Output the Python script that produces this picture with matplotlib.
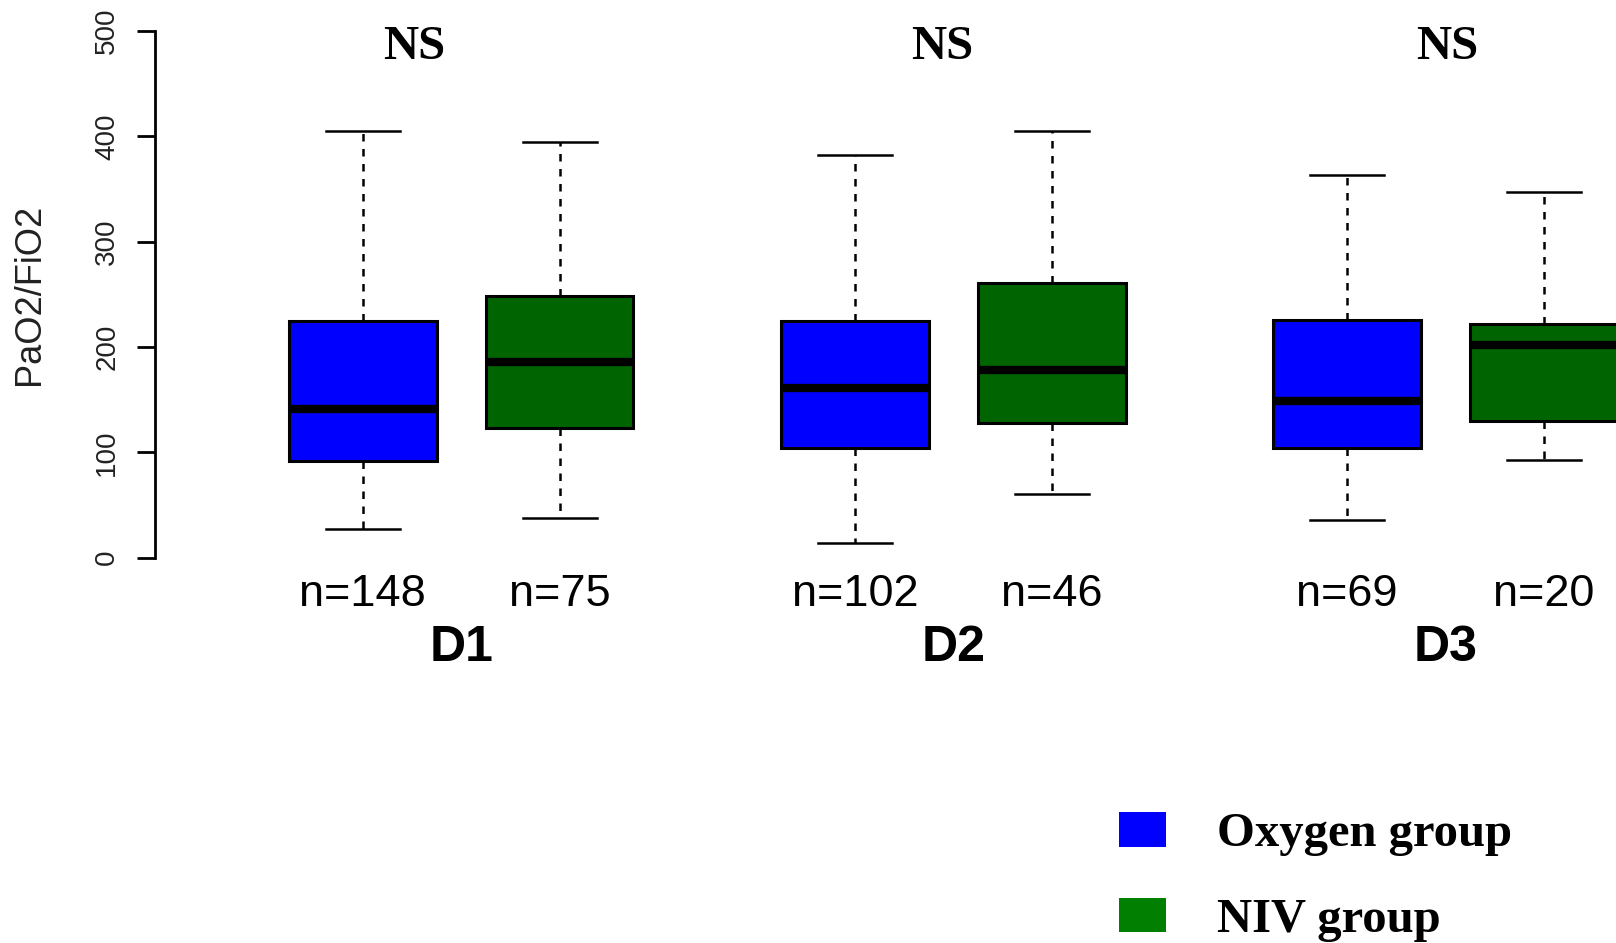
import numpy as np
import matplotlib.pyplot as plt
from matplotlib.patches import Patch

groups = ["D1", "D2", "D3"]
n_oxygen = [148, 102, 69]
n_niv = [75, 46, 20]

# box statistics (PaO2/FiO2)
oxy_whislo = [27, 14, 36]
oxy_q1 = [92, 104, 104]
oxy_med = [141, 161, 149]
oxy_q3 = [225, 225, 226]
oxy_whishi = [405, 382, 363]

niv_whislo = [38, 60, 93]
niv_q1 = [123, 128, 130]
niv_med = [186, 178, 202]
niv_q3 = [248, 261, 222]
niv_whishi = [395, 405, 347]

ns_labels = ["NS", "NS", "NS"]
ns_offsets = [0.26, 0.445, 0.51]

oxy_color = "#0000FF"
niv_color = "#006400"

sans = ["Liberation Sans", "DejaVu Sans"]
serif = ["Liberation Serif", "DejaVu Serif"]

fig = plt.figure(figsize=(16.16, 9.43), dpi=100)
ax = fig.add_axes([155 / 1616, 1 - 557.6 / 943, 1 - 155 / 1616, (557.6 - 31) / 943])

stats = []
positions = []
colors = []
for g in range(len(groups)):
    stats.append(dict(whislo=oxy_whislo[g], q1=oxy_q1[g], med=oxy_med[g],
                      q3=oxy_q3[g], whishi=oxy_whishi[g], fliers=[]))
    stats.append(dict(whislo=niv_whislo[g], q1=niv_q1[g], med=niv_med[g],
                      q3=niv_q3[g], whishi=niv_whishi[g], fliers=[]))
    positions += [g * 2.5 + 1, g * 2.5 + 2]
    colors += [oxy_color, niv_color]

bp = ax.bxp(stats, positions=positions, widths=0.75, patch_artist=True,
            showfliers=False, capwidths=0.377,
            boxprops=dict(linewidth=2.2, edgecolor="black"),
            medianprops=dict(color="black", linewidth=6, solid_capstyle="butt"),
            whiskerprops=dict(color="black", linewidth=1.8, linestyle=(0, (3, 3))),
            capprops=dict(color="black", linewidth=1.8))
for box, c in zip(bp["boxes"], colors):
    box.set_facecolor(c)
for art in bp["boxes"] + bp["medians"] + bp["whiskers"] + bp["caps"]:
    art.set_clip_on(False)

ax.set_xlim(-0.056, 7.367)
ax.set_ylim(0, 500)
for s in ["top", "right", "bottom"]:
    ax.spines[s].set_visible(False)
ax.spines["left"].set_linewidth(2)
ax.set_xticks([])
ax.set_yticks(np.arange(0, 501, 100))
ax.tick_params(axis="y", length=13, width=2, pad=12, labelsize=20)
for lab in ax.get_yticklabels():
    lab.set_rotation(90)
    lab.set_va("center")
    lab.set_family(sans)
    lab.set_color("#222222")

ax.set_ylabel("PaO2/FiO2", fontsize=26, family=sans, color="#222222")
ax.yaxis.set_label_coords(-0.074, 0.5)

for g, name in enumerate(groups):
    x1, x2 = g * 2.5 + 1, g * 2.5 + 2
    ax.text(x1, -35, f"n={n_oxygen[g]}", ha="center", va="center",
            fontsize=32.5, family=sans, clip_on=False)
    ax.text(x2, -35, f"n={n_niv[g]}", ha="center", va="center",
            fontsize=32.5, family=sans, clip_on=False)
    ax.text((x1 + x2) / 2, -86, name, ha="center", va="center",
            fontsize=36, fontweight="bold", family=sans, clip_on=False)
    ax.text(x1 + ns_offsets[g], 485, ns_labels[g], ha="center", va="center",
            fontsize=35, fontweight="bold", family=serif, clip_on=False)

handles = [Patch(facecolor="#0000FF", edgecolor="none", label="Oxygen group"),
           Patch(facecolor="#007F00", edgecolor="none", label="NIV group")]
fig.legend(handles=handles, loc="upper left", bbox_to_anchor=(1119 / 1616, 1 - 812 / 943),
           frameon=False, borderpad=0, borderaxespad=0, handlelength=0.97,
           handleheight=0.72, handletextpad=1.05, labelspacing=0.85,
           prop=dict(family=serif, weight="bold", size=35))

fig.savefig("out.png", dpi=100)
